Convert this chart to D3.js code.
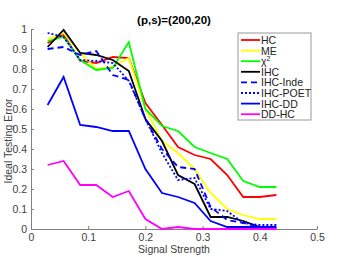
<!DOCTYPE html>
<html>
<head>
<meta charset="utf-8">
<script src="https://cdn.jsdelivr.net/npm/d3@7"></script>
<style>
  body { margin: 0; background: #fff; }
  svg { display: block; font-family: "Liberation Sans", Arial, sans-serif; }
</style>
</head>
<body>
<svg id="chart" width="346" height="257"></svg>
<script>
// Signal strength values (x)
const signal = [0.029, 0.057, 0.086, 0.114, 0.143, 0.171, 0.2, 0.229, 0.257, 0.286, 0.314, 0.343, 0.371, 0.4, 0.429];

// Ideal testing error per method
const hc    = [0.93, 0.97, 0.84, 0.83, 0.86, 0.855, 0.63, 0.52, 0.41, 0.37, 0.35, 0.27, 0.16, 0.16, 0.17];
const me    = [0.95, 0.98, 0.88, 0.80, 0.81, 0.855, 0.60, 0.44, 0.38, 0.30, 0.18, 0.10, 0.07, 0.05, 0.05];
const chi2  = [0.94, 0.96, 0.845, 0.795, 0.805, 0.935, 0.60, 0.515, 0.49, 0.41, 0.38, 0.35, 0.24, 0.21, 0.21];
const ihc   = [0.91, 0.995, 0.88, 0.87, 0.845, 0.79, 0.55, 0.44, 0.27, 0.225, 0.06, 0.06, 0.04, 0.01, 0.005];
const inde  = [0.90, 0.91, 0.87, 0.89, 0.77, 0.745, 0.55, 0.40, 0.31, 0.30, 0.11, 0.045, 0.03, 0.01, 0.01];
const poet  = [0.98, 0.96, 0.845, 0.84, 0.83, 0.74, 0.55, 0.38, 0.245, 0.255, 0.10, 0.09, 0.03, 0.02, 0.02];
const ihcdd = [0.62, 0.76, 0.52, 0.51, 0.49, 0.49, 0.30, 0.18, 0.16, 0.13, 0.04, 0.01, 0.01, 0.01, 0.01];
const ddhc  = [0.32, 0.34, 0.22, 0.22, 0.16, 0.19, 0.05, 0.0, 0.01, 0.0, 0.0, 0.0, 0.0, 0.0, 0.0];

const xTicks = [0, 0.1, 0.2, 0.3, 0.4, 0.5];
const yTicks = [0, 0.1, 0.2, 0.3, 0.4, 0.5, 0.6, 0.7, 0.8, 0.9, 1];

const series = [
  { name: 'HC',       values: hc,    color: '#ff0000', dash: null },
  { name: 'ME',       values: me,    color: '#ffff00', dash: null },
  { name: 'chi2',     values: chi2,  color: '#00ff00', dash: null },
  { name: 'IHC',      values: ihc,   color: '#000000', dash: null },
  { name: 'IHC-Inde', values: inde,  color: '#0000ff', dash: '6,4' },
  { name: 'IHC-POET', values: poet,  color: '#0000ff', dash: '2,2' },
  { name: 'IHC-DD',   values: ihcdd, color: '#0000ff', dash: null },
  { name: 'DD-HC',    values: ddhc,  color: '#ff00ff', dash: null },
];

const svg = d3.select('#chart');
const plotLeft = 31, plotRight = 317, plotTop = 29, plotBottom = 229;
const axisColor = '#808080';
const textColor = '#404040';

const x = d3.scaleLinear().domain([0, 0.5]).range([plotLeft, plotRight]);
const y = d3.scaleLinear().domain([0, 1]).range([plotBottom, plotTop]);

// --- Axes (left + bottom only, ticks pointing inward) ---
const xAxis = svg.append('g')
  .attr('transform', `translate(0,${plotBottom})`)
  .call(d3.axisBottom(x).tickValues(xTicks).tickSizeInner(-3).tickSizeOuter(0)
    .tickPadding(5).tickFormat(d => d === 0 ? '0' : d3.format('.1f')(d)));
const yAxis = svg.append('g')
  .attr('transform', `translate(${plotLeft},0)`)
  .call(d3.axisLeft(y).tickValues(yTicks).tickSizeInner(-3).tickSizeOuter(0)
    .tickPadding(4).tickFormat(d => d === 0 ? '0' : (d === 1 ? '1' : d3.format('.1f')(d))));

[xAxis, yAxis].forEach(a => {
  a.select('.domain').attr('stroke', axisColor);
  a.selectAll('.tick line').attr('stroke', axisColor);
  a.selectAll('.tick text').attr('fill', textColor).attr('font-size', 10.5);
});

// --- Lines ---
const line = d3.line()
  .x((d, i) => x(signal[i]))
  .y(d => y(d));

series.forEach(s => {
  svg.append('path')
    .datum(s.values)
    .attr('d', line)
    .attr('fill', 'none')
    .attr('stroke', s.color)
    .attr('stroke-width', 1.8)
    .attr('stroke-dasharray', s.dash);
});

// --- Title and axis labels ---
svg.append('text')
  .attr('x', (plotLeft + plotRight) / 2).attr('y', 24)
  .attr('text-anchor', 'middle')
  .attr('font-size', 11.5).attr('font-weight', 'bold').attr('fill', '#000')
  .text('(p,s)=(200,20)');

svg.append('text')
  .attr('x', (plotLeft + plotRight) / 2).attr('y', 253)
  .attr('text-anchor', 'middle')
  .attr('font-size', 10.5).attr('fill', textColor)
  .text('Signal Strength');

svg.append('text')
  .attr('transform', `translate(12,${(plotTop + plotBottom) / 2 + 12}) rotate(-90)`)
  .attr('text-anchor', 'middle')
  .attr('font-size', 10.5).attr('fill', textColor)
  .text('Ideal Testing Error');

// --- Legend ---
const lg = svg.append('g');
lg.append('rect')
  .attr('x', 238).attr('y', 33).attr('width', 73).attr('height', 87)
  .attr('fill', '#fff').attr('stroke', '#999').attr('stroke-width', 1);

series.forEach((s, i) => {
  const ly = 40 + i * 10.6;
  lg.append('line')
    .attr('x1', 241).attr('x2', 260).attr('y1', ly).attr('y2', ly)
    .attr('stroke', s.color).attr('stroke-width', 1.8)
    .attr('stroke-dasharray', s.dash);
  const t = lg.append('text')
    .attr('x', 261).attr('y', ly + 4)
    .attr('font-size', 10.5).attr('fill', '#222');
  if (s.name === 'chi2') {
    t.append('tspan').text('\u03c7');
    t.append('tspan').attr('dy', -4).attr('font-size', 7).text('2');
  } else {
    t.text(s.name);
  }
});
</script>
</body>
</html>
